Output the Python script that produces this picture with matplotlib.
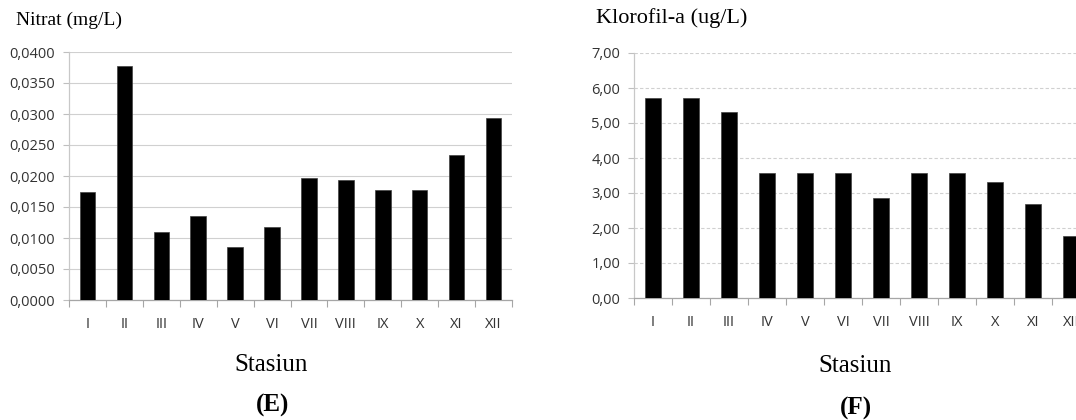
import matplotlib.pyplot as plt
import numpy as np
from matplotlib.ticker import FixedLocator, FuncFormatter

stasiun = ['I', 'II', 'III', 'IV', 'V', 'VI', 'VII', 'VIII', 'IX', 'X', 'XI', 'XII']
nitrat = [0.0175, 0.0378, 0.0110, 0.0135, 0.0085, 0.0117,
          0.0197, 0.0193, 0.0177, 0.0177, 0.0234, 0.0294]
klorofil = [5.72, 5.72, 5.32, 3.56, 3.56, 3.56,
            2.86, 3.56, 3.56, 3.31, 2.68, 1.78]
nitrat_ticks = np.arange(0, 0.04001, 0.005)
klorofil_ticks = np.arange(0, 7.01, 1.0)

W, H = 1076, 420
TICK_FONT = 'Open Sans'
SERIF = 'Liberation Serif'
TEXT_COL = '#333333'


def px_box(left, top, right, bottom):
    return [left / W, 1 - bottom / H, (right - left) / W, (bottom - top) / H]


def draw_bars(ax, values, yticks, fmt, grid_style):
    x = np.arange(len(values))
    ax.bar(x, values, width=0.42, color='black', edgecolor='#404040', linewidth=0.5, zorder=3)
    ax.set_xlim(-0.5, len(values) - 0.5)
    ax.set_ylim(yticks[0], yticks[-1])
    ax.set_yticks(yticks)
    ax.yaxis.set_major_formatter(FuncFormatter(lambda v, p: fmt.format(v).replace('.', ',')))
    ax.set_xticks(x)
    ax.set_xticklabels(stasiun)
    ax.xaxis.set_minor_locator(FixedLocator(np.arange(-0.5, len(values), 1.0)))
    ax.tick_params(axis='x', which='major', length=0, pad=12)
    ax.tick_params(axis='x', which='minor', length=5, color='#a6a6a6', width=0.8)
    ax.tick_params(axis='y', length=4, color='#bfbfbf', width=0.8, pad=6)
    for lbl in ax.get_xticklabels() + ax.get_yticklabels():
        lbl.set_fontfamily(TICK_FONT)
        lbl.set_fontsize(10.5)
        lbl.set_color(TEXT_COL)
    ax.grid(axis='y', color='#d0d0d0', linewidth=0.8, linestyle=grid_style, zorder=0)
    ax.set_axisbelow(True)
    for side in ['top', 'right']:
        ax.spines[side].set_visible(False)
    ax.spines['left'].set_color('#c8c8c8')
    ax.spines['bottom'].set_color('#a6a6a6')
    ax.spines['left'].set_linewidth(0.9)
    ax.spines['bottom'].set_linewidth(0.9)


fig = plt.figure(figsize=(W / 100, H / 100), dpi=100)

ax1 = fig.add_axes(px_box(69, 52, 512, 300))
draw_bars(ax1, nitrat, nitrat_ticks, '{:.4f}', '-')

ax2 = fig.add_axes(px_box(634, 53, 1090, 298))
draw_bars(ax2, klorofil, klorofil_ticks, '{:.2f}', (0, (3, 2)))

fig.text(16 / W, 1 - 20 / H, 'Nitrat (mg/L)', family=SERIF, fontsize=14, ha='left', va='center')
fig.text(596 / W, 1 - 18 / H, 'Klorofil-a (ug/L)', family=SERIF, fontsize=16, ha='left', va='center')

fig.text(271 / W, 1 - 365 / H, 'Stasiun', family=SERIF, fontsize=18, ha='center', va='center')
fig.text(855 / W, 1 - 366 / H, 'Stasiun', family=SERIF, fontsize=18, ha='center', va='center')
fig.text(273 / W, 1 - 405 / H, '(E)', family=SERIF, fontsize=18, fontweight='bold', ha='center', va='center')
fig.text(856 / W, 1 - 408 / H, '(F)', family=SERIF, fontsize=18, fontweight='bold', ha='center', va='center')

fig.savefig('out.png', dpi=100)
plt.close(fig)
